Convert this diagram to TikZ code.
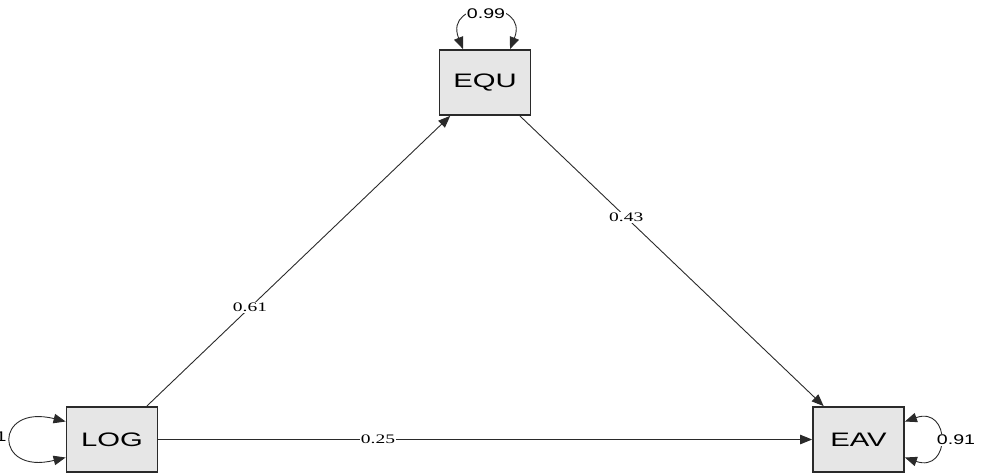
\documentclass[tikz,border=0pt]{standalone}
\usepackage{fontspec}
\usepackage{graphicx}
\setmainfont{Liberation Serif}
\newfontfamily\semsans{Liberation Sans}
\usetikzlibrary{arrows.meta,calc}

\definecolor{boxfill}{HTML}{E6E6E6}
\definecolor{inkline}{HTML}{2A2A2A}

% horizontally widened text
\newcommand{\widetext}[2]{\scalebox{#1}[1]{#2}}

\tikzset{
  manifest/.style={draw=inkline, line width=1.8pt, fill=boxfill,
    minimum width=91pt, minimum height=65pt, inner sep=0pt,
    font=\semsans\fontsize{19.5}{19.5}\selectfont},
  path/.style={draw=inkline, line width=0.9pt,
    -{Triangle[length=12pt,width=9.5pt]}},
  varloop/.style={draw=inkline, line width=0.9pt,
    {Triangle[length=12pt,width=9.5pt]}-{Triangle[length=12pt,width=9.5pt]}},
  coef/.style={fill=white, inner sep=1pt,
    font=\fontsize{13}{13}\selectfont},
  varlbl/.style={fill=white, inner sep=1pt,
    font=\semsans\fontsize{14}{14}\selectfont}
}

\begin{document}
\begin{tikzpicture}[x=1pt, y=-1pt]
  \useasboundingbox (0,0) rectangle (981,474);

  % observed variables
  \node[manifest] (LOG) at (112,439.5) {\widetext{1.5}{LOG}};
  \node[manifest] (EQU) at (485,82.5) {\widetext{1.5}{EQU}};
  \node[manifest] (EAV) at (858.5,439.5) {\widetext{1.5}{EAV}};

  % regression paths
  \draw[path] (LOG) -- node[coef, pos=0.34] {\widetext{1.5}{0.61}} (EQU);
  \draw[path] (EQU) -- node[coef, pos=0.35] {\widetext{1.5}{0.43}} (EAV);
  \draw[path] (LOG) -- node[coef, pos=0.336] {\widetext{1.5}{0.25}} (EAV);

  % residual variances
  \draw[varloop] ($(LOG.west)+(0,-18)$) .. controls +(-72,-18) and +(-72,18) .. ($(LOG.west)+(0,18)$);
  \node[varlbl, fill=none] (vLOG) at (1,437) {\widetext{1.4}{1}};

  \draw[varloop] ($(EQU.north)+(-22,0)$) .. controls +(-20,-50) and +(20,-50) .. ($(EQU.north)+(25,0)$);
  \node[varlbl] (vEQU) at (486,14) {\widetext{1.4}{0.99}};

  \draw[varloop] ($(EAV.east)+(0,-18)$) .. controls +(46,-16) and +(46,16) .. ($(EAV.east)+(0,18)$);
  \node[varlbl] (vEAV) at (956,440) {\widetext{1.4}{0.91}};
\end{tikzpicture}
\end{document}
